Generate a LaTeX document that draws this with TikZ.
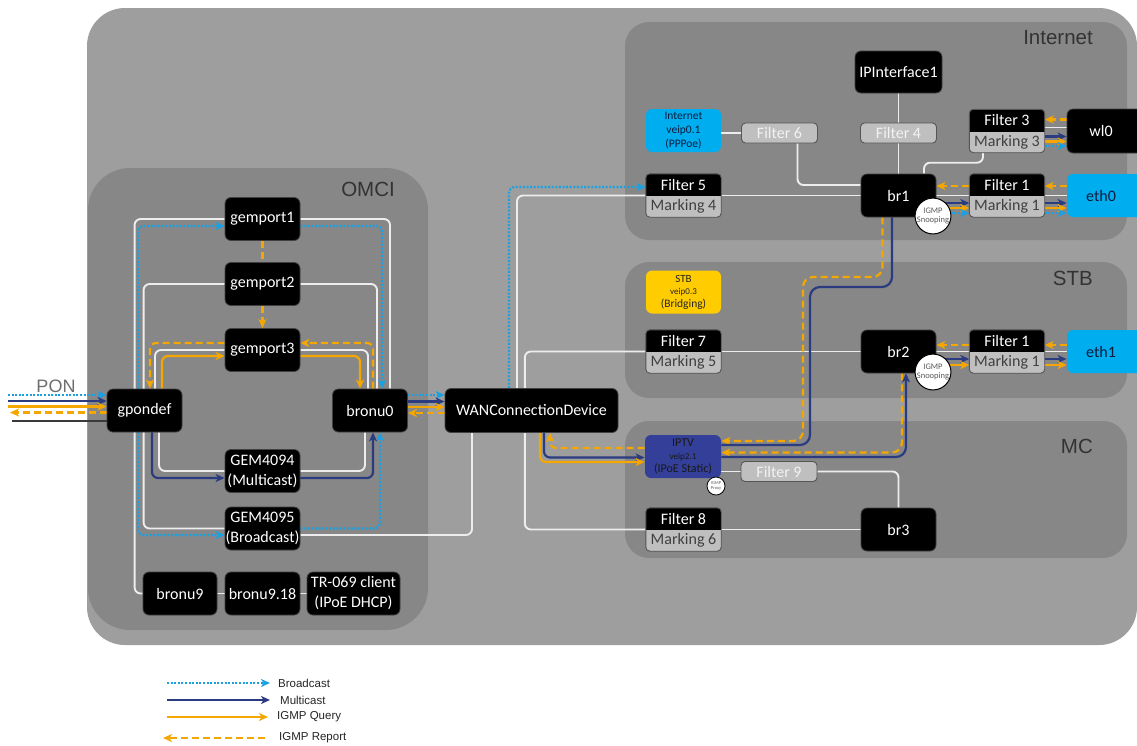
\documentclass[tikz,border=0pt]{standalone}
\usepackage{fontspec}
\setmainfont{Carlito}
\newfontfamily\arialf{Liberation Sans}
\usetikzlibrary{arrows.meta,calc}
\pgfdeclarelayer{panels}
\pgfdeclarelayer{lines}
\pgfsetlayers{panels,lines,main}
\definecolor{bgouter}{HTML}{9D9E9D}
\definecolor{panel}{HTML}{878787}
\definecolor{wline}{HTML}{EDEDED}
\definecolor{navyl}{HTML}{2B3B80}
\definecolor{yell}{HTML}{F5A700}
\definecolor{cyanl}{HTML}{1BA1E2}
\definecolor{cyanfill}{HTML}{00ADEF}
\definecolor{yelfill}{HTML}{FFCC00}
\definecolor{iptvfill}{HTML}{333F98}
\definecolor{filtgray}{HTML}{BFBFBF}
\definecolor{filtlight}{HTML}{F2F2F2}
\definecolor{markgray}{HTML}{404040}
\definecolor{labgray}{HTML}{333333}
\definecolor{pongray}{HTML}{6E6E6E}
\definecolor{darktext}{HTML}{0D1B3E}
\definecolor{fmborder}{HTML}{555555}
\definecolor{darkl}{HTML}{3A3A3A}
\newcommand\fmnode[4]{%
  \node[fmbox] (#1) at (#2) {};
  \begin{scope}
    \clip ([xshift=-2pt,yshift=2pt]#1.north west) rectangle ([xshift=2pt]#1.east);
    \fill[black,rounded corners=4pt] (#1.north west) rectangle (#1.south east);
  \end{scope}
  \draw[draw=fmborder,rounded corners=4pt,line width=0.9pt] (#1.north west) rectangle (#1.south east);
  \node[nfont,text=white] (#1t) at ($(#1.north)!0.5!(#1.center)$) {#3};
  \node[nfont,text=markgray] (#1b) at ($(#1.south)!0.5!(#1.center)$) {#4};
}
\begin{document}
\begin{tikzpicture}[x=1pt,y=-1pt,
  nfont/.style={font=\fontsize{16}{19}\selectfont, inner sep=0pt},
  blk/.style={fill=black, draw=black!75!white, line width=0.8pt, rounded corners=6pt, text=white,
    font=\fontsize{16}{20}\selectfont, minimum width=75pt, minimum height=43pt, inner sep=0pt, align=center},
  cyn/.style={blk, fill=cyanfill, draw=none, text=darktext},
  fmbox/.style={fill=filtgray, draw=none, rounded corners=4pt, minimum width=75pt, minimum height=43pt, inner sep=0pt},
  flt/.style={fill=filtgray, draw=fmborder, line width=0.9pt, rounded corners=4pt, minimum width=76pt,
    minimum height=20pt, inner sep=0pt, text=filtlight, font=\fontsize{16}{19}\selectfont},
  lab/.style={font=\arialf\fontsize{20.5}{22}\selectfont, text=labgray, inner sep=0pt},
  snoop/.style={circle, fill=white, draw=black, line width=1pt, minimum size=34pt, inner sep=0pt,
    align=center, text=black!65, font=\fontsize{8.5}{9}\selectfont},
  legt/.style={font=\arialf\fontsize{11.5}{13}\selectfont, text=black!85, inner sep=0pt, anchor=west},
  ar/.style={-{Stealth[length=9pt,width=8pt,inset=2.5pt]}},
  wl/.style={draw=wline, line width=1.9pt, rounded corners=6pt},
  bc/.style={draw=cyanl, line width=2.3pt, dash pattern=on 2pt off 1.6pt, rounded corners=6pt},
  mc/.style={draw=navyl, line width=2.2pt, rounded corners=6pt},
  qy/.style={draw=yell, line width=2.2pt, rounded corners=6pt},
  rp/.style={draw=yell, line width=2.2pt, dash pattern=on 7pt off 4pt, rounded corners=6pt}
]
\clip (0,0) rectangle (1137,745);

% ---------- panels ----------
\begin{pgfonlayer}{panels}
  \fill[white] (0,0) rectangle (1137,745);
  \fill[bgouter, rounded corners=38pt] (87,8) rectangle (1137,645);
  \fill[panel, rounded corners=42pt] (88,168) rectangle (428,630);
  \fill[panel, rounded corners=24pt] (625,22) rectangle (1127,240);
  \fill[panel, rounded corners=24pt] (625,262) rectangle (1127,398);
  \fill[panel, rounded corners=24pt] (625,421) rectangle (1127,558);
\end{pgfonlayer}

\node[lab, anchor=east] (lomci) at (395,189) {OMCI};
\node[lab, anchor=east] (linet) at (1093,38) {Internet};
\node[lab, anchor=east] (lstb) at (1093,278) {STB};
\node[lab, anchor=east] (lmc) at (1093,446) {MC};
\node[font=\arialf\fontsize{18}{20}\selectfont, text=pongray, inner sep=0pt] (lpon) at (56,386) {PON};

% ---------- OMCI nodes ----------
\node[blk] (gemport1) at (262.5,219) {gemport1};
\node[blk] (gemport2) at (262.5,284) {gemport2};
\node[blk] (gemport3) at (262.5,350) {gemport3};
\node[blk] (gpondef) at (144.5,410.5) {gpondef};
\node[blk] (bronu0) at (370,410.5) {bronu0};
\node[blk] (gem4094) at (262.5,471) {GEM4094\\(Multicast)};
\node[blk] (gem4095) at (262.5,528.5) {GEM4095\\(Broadcast)};
\node[blk, minimum width=74pt] (bronu9) at (180,593.5) {bronu9};
\node[blk] (bronu918) at (262.5,593.5) {bronu9.18};
\node[blk, minimum width=93pt] (tr069) at (353.5,593.5) {TR-069 client\\(IPoE DHCP)};
\node[blk, minimum width=173pt, minimum height=44pt] (wan) at (531.5,410.5) {WANConnectionDevice};

% ---------- Internet ----------
\node[blk, minimum width=87pt, minimum height=42pt] (ipif) at (898.5,72) {IPInterface1};
\node[cyn, minimum width=75pt, font=\fontsize{11.5}{14}\selectfont] (veip01) at (683.5,130.5) {Internet\\veip0.1\\(PPPoe)};
\node[flt] (filt6) at (779.5,133) {Filter 6};
\node[flt] (filt4) at (898.5,133) {Filter 4};
\fmnode{f3}{1007,131}{Filter 3}{Marking 3}
\node[blk, minimum width=76pt, minimum height=44pt] (wl0) at (1105,131) {\hspace*{-8pt}wl0};
\fmnode{f5}{683.5,195.5}{Filter 5}{Marking 4}
\node[blk] (br1) at (898.5,195.5) {br1};
\fmnode{f1a}{1007,195.5}{Filter 1}{Marking 1}
\node[cyn, minimum width=76pt] (eth0) at (1105,195.5) {\hspace*{-8pt}eth0};
\node[snoop] (sn1) at (933,216) {IGMP\\Snooping};

% ---------- STB ----------
\node[blk, fill=yelfill, draw=none, text=black!85, align=center, minimum width=75pt,
  font=\fontsize{11}{12.5}\selectfont] (stb) at (683.5,292)
  {STB\\{\fontsize{9}{12.5}\selectfont veip0.3}\\{\fontsize{11.5}{12.5}\selectfont (Bridging)}};
\fmnode{f7}{683.5,351.5}{Filter 7}{Marking 5}
\node[blk] (br2) at (898.5,351.5) {br2};
\fmnode{f1b}{1007,351.5}{Filter 1}{Marking 1}
\node[cyn, minimum width=76pt] (eth1) at (1105,351.5) {\hspace*{-8pt}eth1};
\node[snoop] (sn2) at (933,372) {IGMP\\Snooping};

% ---------- MC ----------
\node[blk, fill=iptvfill, draw=none, text=black!90, minimum width=76pt,
  font=\fontsize{12}{13}\selectfont] (iptv) at (683,456.5)
  {IPTV\\{\fontsize{9}{13}\selectfont veip2.1}\\{\fontsize{12}{13}\selectfont (IPoE Static)}};
\node[snoop, minimum size=18pt, line width=0.8pt, font=\fontsize{4.5}{5}\selectfont] (proxy) at (716,486) {IGMP\\Proxy};
\node[flt] (filt9) at (779,471.5) {Filter 9};
\fmnode{f8}{683.5,529.5}{Filter 8}{Marking 6}
\node[blk] (br3) at (898.5,529.5) {br3};

% ---------- legend ----------
\coordinate (lb1) at (167,683); \coordinate (lb2) at (270,683);
\coordinate (lm1) at (167,700); \coordinate (lm2) at (270,700);
\coordinate (lq1) at (167,717); \coordinate (lq2) at (268,717);
\coordinate (lr1) at (163,738); \coordinate (lr2) at (265,738);
\node[legt] (tbc) at (278,683) {Broadcast};
\node[legt] (tmc) at (280,700) {Multicast};
\node[legt] (tqy) at (277,717) {IGMP Query};
\node[legt] (trp) at (279,738) {IGMP Report};

% ---------- PON ----------
\coordinate (p1) at (8,395);
\coordinate (p2) at (8,401);
\coordinate (p3) at (8,406.5);
\coordinate (p4) at (10,412.5);
\coordinate (p5) at (12,421);

\begin{pgfonlayer}{lines}
  % OMCI white
  \draw[wl] (gemport1.west) -- ++(-90,0) |- (bronu9.west);
  \draw[wl] (gemport1.east) -| ([xshift=20pt]bronu0.north);
  \draw[wl] (gemport2.west) -- ++(-81,0) |- (gem4095.west);
  \draw[wl] (gemport2.east) -| ([xshift=7pt]bronu0.north);
  \draw[wl] (gemport3.west) -| ([xshift=10.5pt]gpondef.north);
  \draw[wl] (gemport3.east) -| ([xshift=-2pt]bronu0.north);
  \draw[wl] (gem4094.west) -| ([xshift=14.5pt]gpondef.south);
  \draw[wl] (gem4094.east) -| ([xshift=-5pt]bronu0.south);
  \draw[wl] ([yshift=-6.5pt]gem4095.east) -| ([xshift=-59.5pt]wan.south);
  \draw[wl] (bronu9.east) -- (bronu918.west);
  \draw[wl] (bronu918.east) -- (tr069.west);
  % OMCI broadcast
  \draw[bc,ar] ([xshift=-6.5pt]gpondef.north) |- ([yshift=-7pt]gemport1.west);
  \draw[bc,ar] ([xshift=-6.5pt]gpondef.south) |- ([yshift=-6.5pt]gem4095.west);
  \draw[bc,ar] ([yshift=-7pt]gemport1.east) -| ([xshift=12pt]bronu0.north);
  \draw[bc,ar] (gem4095.east) -| ([xshift=10pt]bronu0.south);
  % OMCI IGMP report
  \draw[rp] (gemport1.south) -- (gemport2.north);
  \draw[rp,ar] (gemport2.south) -- (gemport3.north);
  \draw[rp,ar] ([xshift=3pt]bronu0.north) |- ([yshift=7pt]gemport3.east);
  \draw[rp,ar] ([yshift=7pt]gemport3.west) -| ([xshift=5.5pt]gpondef.north);
  % OMCI IGMP query
  \draw[qy,ar] ([xshift=17.5pt]gpondef.north) |- ([yshift=-6pt]gemport3.west);
  \draw[qy,ar] ([yshift=-6pt]gemport3.east) -| ([xshift=-10pt]bronu0.north);
  % OMCI multicast
  \draw[mc,ar] ([xshift=7.5pt]gpondef.south) |- ([yshift=-7pt]gem4094.west);
  \draw[mc,ar] ([yshift=-7pt]gem4094.east) -| ([xshift=3pt]bronu0.south);
  % PON
  \draw[bc,ar] (p1) -- (p1 -| gpondef.west);
  \draw[mc,ar] (p2) -- (p2 -| gpondef.west);
  \draw[qy,ar] (p3) -- (p3 -| gpondef.west);
  \draw[rp,ar] (p4 -| gpondef.west) -- (p4);
  \draw[draw=darkl, line width=2pt] (p5) -- (p5 -| gpondef.west);
  % bronu0 <-> WAN
  \draw[bc,ar] ([yshift=15.5pt]bronu0.east) -- ([yshift=15.5pt]wan.west);
  \draw[mc,ar] ([yshift=9pt]bronu0.east) -- ([yshift=9pt]wan.west);
  \draw[qy,ar] ([yshift=3.5pt]bronu0.east) -- ([yshift=3.5pt]wan.west);
  \draw[rp,ar] ([yshift=-2.5pt]wan.west) -- ([yshift=-2.5pt]bronu0.east);
  % WAN -> filters
  \draw[wl] ([xshift=-14.5pt]wan.north) |- (f5.west);
  \draw[bc,ar] ([xshift=-22.5pt]wan.north) |- ([yshift=8.5pt]f5.west);
  \draw[wl] (f7.west) -- ++(-121,0) |- (f8.west);
  \draw[wl] (f5.east) -- (br1.west);
  \draw[wl] (f7.east) -- (br2.west);
  \draw[wl] (f8.east) -- (br3.west);
  % Internet internals
  \draw[wl] (filt6.west -| veip01.east) -- (filt6.west);
  \draw[wl] ([xshift=18pt]filt6.south) |- ([yshift=10.5pt]br1.west);
  \draw[wl] (ipif.south) -- (filt4.north);
  \draw[wl] (filt4.south) -- (br1.north);
  \draw[wl] ([xshift=-24pt]f3.south) -- ++(0,10) -| ([xshift=25.5pt]br1.north);
  \draw[wl] ([yshift=3.5pt]f3.east) -- ([yshift=3.5pt]wl0.west);
  \draw[rp,ar] ([yshift=11.5pt]wl0.west) -- ([yshift=11.5pt]f3.east);
  \draw[mc,ar] ([yshift=-5.5pt]f3.east) -- ([yshift=-5.5pt]wl0.west);
  \draw[qy,ar] ([yshift=-10.5pt]f3.east) -- ([yshift=-10.5pt]wl0.west);
  \draw[bc,ar] ([yshift=-15pt]f3.east) -- ([yshift=-15pt]wl0.west);
  % br1 row
  \draw[wl] (br1.east) -- (f1a.west);
  \draw[wl] (f1a.east) -- (eth0.west);
  \draw[rp,ar] ([yshift=9.5pt]f1a.west) -- ([yshift=9.5pt]br1.east);
  \draw[rp,ar] ([yshift=9.5pt]eth0.west) -- ([yshift=9.5pt]f1a.east);
  \draw[mc,ar] ([yshift=-7.5pt]br1.east) -- ([yshift=-7.5pt]f1a.west);
  \draw[qy,ar] ([yshift=-12.5pt]br1.east) -- ([yshift=-12.5pt]f1a.west);
  \draw[bc,ar] ([yshift=-17.5pt]br1.east) -- ([yshift=-17.5pt]f1a.west);
  \draw[mc,ar] ([yshift=-7.5pt]f1a.east) -- ([yshift=-7.5pt]eth0.west);
  \draw[qy,ar] ([yshift=-12.5pt]f1a.east) -- ([yshift=-12.5pt]eth0.west);
  \draw[bc,ar] ([yshift=-17.5pt]f1a.east) -- ([yshift=-17.5pt]eth0.west);
  % br2 row
  \draw[wl] (br2.east) -- (f1b.west);
  \draw[wl] (f1b.east) -- (eth1.west);
  \draw[rp,ar] ([yshift=6.5pt]f1b.west) -- ([yshift=6.5pt]br2.east);
  \draw[rp,ar] ([yshift=6.5pt]eth1.west) -- ([yshift=6.5pt]f1b.east);
  \draw[mc,ar] ([yshift=-7.5pt]br2.east) -- ([yshift=-7.5pt]f1b.west);
  \draw[qy,ar] ([yshift=-13.5pt]br2.east) -- ([yshift=-13.5pt]f1b.west);
  \draw[mc,ar] ([yshift=-7.5pt]f1b.east) -- ([yshift=-7.5pt]eth1.west);
  \draw[qy,ar] ([yshift=-13.5pt]f1b.east) -- ([yshift=-13.5pt]eth1.west);
  % br1/br2 <-> IPTV
  \draw[rp,ar,rounded corners=10pt] ([xshift=-16pt]br1.south) |- (803,277) |- ([yshift=15.5pt]iptv.east);
  \draw[mc,rounded corners=10pt] ([xshift=-6.5pt]br1.south) |- (810,287) |- ([yshift=11.5pt]iptv.east);
  \draw[rp,ar,rounded corners=10pt] ([xshift=3.5pt]br2.south) |- ([yshift=4pt]iptv.east);
  \draw[mc,ar,rounded corners=10pt] ([yshift=-0.5pt]iptv.east) -| ([xshift=7.5pt]br2.south);
  % IPTV <-> WAN
  \draw[rp,ar] ([yshift=8.5pt]iptv.west) -| ([xshift=18.5pt]wan.south);
  \draw[mc,ar] ([xshift=12.5pt]wan.south) |- ([yshift=-1pt]iptv.west);
  \draw[qy,ar] ([xshift=8.5pt]wan.south) |- ([yshift=-5.5pt]iptv.west);
  % MC internals
  \draw[wl] (filt9.west -| iptv.east) -- (filt9.west);
  \draw[wl] (filt9.east) -| (br3.north);
  % legend
  \draw[bc,ar] (lb1) -- (lb2);
  \draw[mc,ar] (lm1) -- (lm2);
  \draw[qy,ar] (lq1) -- (lq2);
  \draw[rp,ar] (lr2) -- (lr1);
\end{pgfonlayer}
\end{tikzpicture}
\end{document}
